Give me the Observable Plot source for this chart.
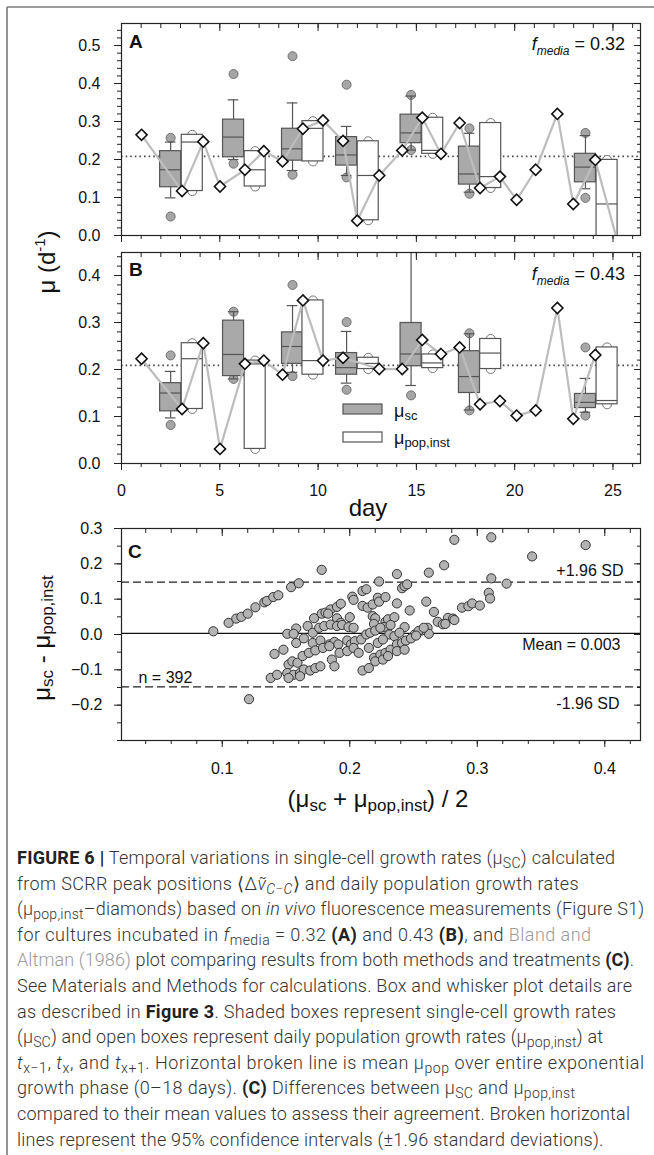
<!DOCTYPE html>
<html><head><meta charset="utf-8">
<script src="https://cdn.jsdelivr.net/npm/d3@7"></script>
<script src="https://cdn.jsdelivr.net/npm/@observablehq/plot@0.6"></script>
<style>
body{margin:0;background:#fff;}
#fig{position:relative;width:654px;height:1155px;overflow:hidden;background:#fff;font-family:"Liberation Sans",Arial,sans-serif;}
.panel{position:absolute;left:0;}
#overlay{position:absolute;left:0;top:0;pointer-events:none;}
#caption{position:absolute;left:17px;top:845px;font-family:Roboto,"Liberation Sans",sans-serif;font-size:18px;line-height:25.6px;color:#333;font-weight:300;}
#caption .ln{white-space:nowrap;display:block;}
#caption .ln span.w{display:inline;}
#caption b{font-weight:700;color:#222;}
#caption sub{font-size:0.78em;line-height:0;vertical-align:-0.3em;}
#caption .ref{color:#9a9a9a;}
</style></head>
<body><div id="fig"></div>
<script>
// ---------------- DATA ----------------
// population growth-rate diamonds (mu_pop,inst)
const popDaysA = [1.02, 3.08, 4.16, 5.01, 6.28, 7.24, 8.19, 9.23, 10.25, 11.27, 11.99, 13.11, 14.28, 15.3, 16.25, 17.2, 18.24, 19.25, 20.1, 21.07, 22.17, 22.98, 24.1, 25.25];
const popValsA = [0.265, 0.117, 0.247, 0.129, 0.173, 0.222, 0.195, 0.281, 0.303, 0.249, 0.039, 0.158, 0.224, 0.31, 0.215, 0.296, 0.125, 0.155, 0.094, 0.173, 0.32, 0.083, 0.199, -0.02];
const popDaysB = [1.02, 3.08, 4.16, 5.01, 6.28, 7.24, 8.19, 9.23, 10.25, 11.27, 13.11, 14.28, 15.3, 16.25, 17.2, 18.24, 19.25, 20.1, 21.07, 22.17, 22.98, 24.1];
const popValsB = [0.223, 0.116, 0.256, 0.031, 0.212, 0.219, 0.189, 0.347, 0.219, 0.225, 0.201, 0.201, 0.263, 0.233, 0.247, 0.126, 0.133, 0.102, 0.113, 0.331, 0.095, 0.231];

// box positions (day)
const scBoxDays = [2.5, 5.7, 8.7, 11.45, 14.73, 17.7, 23.6];
const popBoxDays = [3.6, 6.8, 9.74, 12.55, 15.83, 18.78, 24.7];

// single-cell (shaded) boxes, panel A
const scLowA  = [0.099, 0.200, 0.171, 0.158, 0.225, 0.114, 0.123];
const scQ1A   = [0.127, 0.206, 0.197, 0.184, 0.243, 0.134, 0.140];
const scMedA  = [0.173, 0.259, 0.228, 0.212, 0.270, 0.162, 0.180];
const scQ3A   = [0.222, 0.305, 0.281, 0.259, 0.318, 0.234, 0.215];
const scHighA = [0.246, 0.357, 0.349, 0.287, 0.367, 0.269, 0.263];
const scOutA  = [[0.257, 0.050], [0.425, 0.189], [0.472, 0.160], [0.397, 0.153], [0.370, 0.225], [0.282, 0.110], [0.270, 0.099]];
// population (open) boxes, panel A
const popLowA  = [0.117, 0.129, 0.195, 0.040, 0.215, 0.125, -0.02];
const popMedA  = [0.246, 0.173, 0.282, 0.158, 0.224, 0.155, 0.083];
const popHighA = [0.265, 0.222, 0.301, 0.248, 0.310, 0.296, 0.199];

// single-cell boxes, panel B
const scLowB  = [0.097, 0.180, 0.194, 0.171, 0.166, 0.114, 0.109];
const scQ1B   = [0.111, 0.186, 0.212, 0.189, 0.207, 0.150, 0.118];
const scMedB  = [0.150, 0.232, 0.249, 0.204, 0.233, 0.185, 0.130];
const scQ3B   = [0.171, 0.304, 0.279, 0.235, 0.299, 0.239, 0.148];
const scHighB = [0.196, 0.323, 0.336, 0.281, 0.500, 0.276, 0.181];
const scOutB  = [[0.230, 0.082], [0.323, 0.180], [0.380, 0.186], [0.301, 0.157], [0.145], [0.277, 0.113], [0.247, 0.102]];
// population boxes, panel B
const popLowB  = [0.116, 0.031, 0.189, 0.201, 0.203, 0.201, 0.126];
const popMedB  = [0.223, 0.212, 0.219, 0.213, 0.214, 0.235, 0.134];
const popHighB = [0.256, 0.219, 0.347, 0.225, 0.232, 0.265, 0.247];

const meanPopA = 0.208, meanPopB = 0.209;
const fMediaA = "0.32", fMediaB = "0.43";

// Bland-Altman (panel C)
const blandMean = [0.093,0.105,0.111,0.115,0.120,0.126,0.133,0.135,0.140,0.144,0.154,0.160,0.178,0.121,
0.223,0.237,0.241,0.243,0.245,0.262,0.274,0.210,0.213,0.202,0.203,0.210,0.214,0.218,0.222,0.223,0.228,0.237,0.247,0.260,0.266,0.288,0.293,0.296,0.302,
0.172,0.178,0.181,0.185,0.190,0.193,0.183,0.190,0.193,0.200,0.218,0.220,0.219,0.228,0.230,0.235,0.243,0.227,0.232,
0.269,0.273,0.277,0.281,0.282,0.275,0.261,0.262,0.256,
0.151,0.158,0.156,0.167,0.171,0.176,0.180,0.185,0.190,0.194,0.199,0.203,
0.158,0.164,0.141,0.148,0.171,0.177,0.184,0.188,0.191,0.198,0.201,0.204,0.209,0.213,0.216,0.220,0.224,0.231,0.235,0.239,0.251,0.254,0.258,
0.152,0.155,0.159,0.163,0.168,0.173,0.179,0.184,0.192,0.198,0.203,0.207,0.215,0.222,0.226,
0.219,0.224,0.228,0.232,0.237,0.241,0.244,0.248,0.252,
0.151,0.156,0.161,0.164,0.169,0.173,0.177,0.186,0.188,0.210,0.215,0.220,0.226,0.230,0.237,0.243,
0.138,0.143,0.152,0.161,
0.282,0.311,0.343,0.385,0.311,0.323,0.309,0.310];
const blandDiff = [0.009,0.033,0.045,0.050,0.059,0.077,0.091,0.095,0.106,0.111,0.134,0.145,0.183,-0.183,
0.150,0.171,0.131,0.137,0.142,0.175,0.196,0.123,0.128,0.107,0.098,0.081,0.076,0.085,0.104,0.093,0.106,0.088,0.068,0.093,0.064,0.076,0.080,0.088,0.082,
0.046,0.059,0.062,0.071,0.078,0.087,0.059,0.046,0.033,0.049,0.052,0.046,0.030,0.036,0.043,0.049,0.021,0.021,0.027,
0.036,0.029,0.047,0.045,0.041,0.030,0.019,0.002,0.011,
0.002,0.017,0.002,0.024,0.005,0.019,0.024,0.028,0.024,0.027,0.021,0.019,
-0.024,-0.011,-0.055,-0.043,-0.024,-0.017,-0.028,-0.021,-0.028,-0.017,-0.028,-0.019,-0.014,0.000,0.005,0.011,0.019,0.000,-0.005,0.005,0.000,0.010,0.019,
-0.085,-0.076,-0.080,-0.061,-0.052,-0.045,-0.038,-0.033,-0.052,-0.047,-0.038,-0.052,-0.038,-0.024,-0.014,
-0.066,-0.057,-0.052,-0.043,-0.028,-0.024,-0.017,-0.011,-0.003,
-0.109,-0.114,-0.109,-0.099,-0.102,-0.095,-0.090,-0.071,-0.090,-0.102,-0.095,-0.076,-0.071,-0.061,-0.047,-0.043,
-0.123,-0.114,-0.123,-0.118,
0.268,0.275,0.221,0.253,0.159,0.144,0.118,0.102];
const meanDiff = 0.003, sdUpper = 0.148, sdLower = -0.148, nPairs = 392;

// tick values
const abXMajor = [0, 5, 10, 15, 20, 25];
const abXMinor = d3.range(0, 27, 1);
const aYMajor = [0, 0.1, 0.2, 0.3, 0.4, 0.5];
const bYMajor = [0, 0.1, 0.2, 0.3, 0.4];
const cXMajor = [0.1, 0.2, 0.3, 0.4];
const cYMajor = [-0.2, -0.1, 0, 0.1, 0.2, 0.3];

// ---------------- DRAWING ----------------
const fig = document.getElementById("fig");
const FONT = "Liberation Sans, Arial, sans-serif";
const BLANK = () => "";

function frameAxes(xMajor, xMinor, yMajor, yMinor, xFmt, yFmt, xPad, yPad) {
  return [
    Plot.axisY({anchor: "left", ticks: yMajor, tickSize: 7, tickPadding: yPad, tickFormat: yFmt, label: null, fontSize: 16, stroke: "#222"}),
    Plot.axisY({anchor: "left", ticks: yMinor, tickSize: 4, tickFormat: BLANK, label: null, stroke: "#222"}),
    Plot.axisY({anchor: "right", ticks: yMajor, tickSize: 7, dx: -7, tickFormat: BLANK, label: null, stroke: "#222"}),
    Plot.axisY({anchor: "right", ticks: yMinor, tickSize: 4, dx: -4, tickFormat: BLANK, label: null, stroke: "#222"}),
    Plot.axisX({anchor: "bottom", ticks: xMajor, tickSize: 7, tickPadding: xPad, tickFormat: xFmt, label: null, fontSize: 16, stroke: "#222"}),
    Plot.axisX({anchor: "bottom", ticks: xMinor, tickSize: 4, tickFormat: BLANK, label: null, stroke: "#222"}),
    Plot.axisX({anchor: "top", ticks: xMajor, tickSize: 7, dy: 7, tickFormat: BLANK, label: null, stroke: "#222"}),
    Plot.axisX({anchor: "top", ticks: xMinor, tickSize: 4, dy: 4, tickFormat: BLANK, label: null, stroke: "#222"}),
    Plot.frame({stroke: "#222", strokeWidth: 1.2})
  ];
}

function boxPanel(p) {
  const hw = 0.535, cap = 0.27;
  const sc = scBoxDays.map((d, i) => ({x: d, x1: d - hw, x2: d + hw, lo: p.scLow[i], q1: p.scQ1[i], med: p.scMed[i], q3: p.scQ3[i], hi: p.scHigh[i]}));
  const scOut = scBoxDays.flatMap((d, i) => p.scOut[i].map(v => ({x: d, y: v})));
  const pop = popBoxDays.map((d, i) => ({x: d, x1: d - hw, x2: d + hw, lo: p.popLow[i], med: p.popMed[i], hi: p.popHigh[i]}));
  const popEnds = pop.flatMap(r => [{x: r.x, y: r.lo}, {x: r.x, y: r.hi}]);
  const dia = p.days.map((d, i) => ({x: d, y: p.vals[i]}));
  const yMinor = d3.range(0, p.yMax, 0.02).map(v => +v.toFixed(2));
  return Plot.plot({
    width: 654, height: p.height, marginLeft: 121, marginRight: 14, marginTop: p.mt, marginBottom: p.mb,
    x: {domain: [0, 26.4]}, y: {domain: [0, p.yMax]},
    style: {fontFamily: FONT, fontSize: "16px", color: "#111", background: "transparent", overflow: "visible"},
    marks: [
      Plot.ruleY([p.meanPop], {stroke: "#4a4a4a", strokeDasharray: "1.6,3", strokeWidth: 1.8}),
      Plot.dot(popEnds, {x: "x", y: "y", r: 4.5, fill: "white", stroke: "#777", strokeWidth: 1, clip: true}),
      Plot.dot(scOut, {x: "x", y: "y", r: 4.5, fill: "#a6a6a6", stroke: "#707070", strokeWidth: 1, clip: true}),
      Plot.ruleX(sc, {x: "x", y1: "q3", y2: "hi", stroke: "#555", strokeWidth: 1.2, clip: true}),
      Plot.ruleX(sc, {x: "x", y1: "lo", y2: "q1", stroke: "#555", strokeWidth: 1.2, clip: true}),
      Plot.ruleY(sc, {y: "hi", x1: d => d.x - cap, x2: d => d.x + cap, stroke: "#555", strokeWidth: 1.2, clip: true}),
      Plot.ruleY(sc, {y: "lo", x1: d => d.x - cap, x2: d => d.x + cap, stroke: "#555", strokeWidth: 1.2, clip: true}),
      Plot.rect(sc, {x1: "x1", x2: "x2", y1: "q1", y2: "q3", fill: "#a9a9a9", stroke: "#555", strokeWidth: 1.2, clip: true}),
      Plot.ruleY(sc, {y: "med", x1: "x1", x2: "x2", stroke: "#555", strokeWidth: 1.2}),
      Plot.rect(pop, {x1: "x1", x2: "x2", y1: "lo", y2: "hi", fill: "white", stroke: "#555", strokeWidth: 1.2, clip: true}),
      Plot.ruleY(pop, {y: "med", x1: "x1", x2: "x2", stroke: "#555", strokeWidth: 1.2, clip: true}),
      Plot.line(dia, {x: "x", y: "y", stroke: "#bdbdbd", strokeWidth: 2.2, clip: true}),
      Plot.dot(dia, {x: "x", y: "y", symbol: "diamond2", r: 5, fill: "white", stroke: "#111", strokeWidth: 1.6, clip: true}),
      ...frameAxes(abXMajor, abXMinor, p.yMajor, yMinor, p.showX ? d3.format("d") : BLANK, d3.format(".1f"), 14, 14)
    ]
  });
}

function place(svg, top) {
  svg.classList.add("panel");
  svg.style.top = top + "px";
  fig.appendChild(svg);
}

place(boxPanel({days: popDaysA, vals: popValsA, scLow: scLowA, scQ1: scQ1A, scMed: scMedA, scQ3: scQ3A, scHigh: scHighA, scOut: scOutA,
  popLow: popLowA, popMed: popMedA, popHigh: popHighA, meanPop: meanPopA, yMax: 0.558, yMajor: aYMajor,
  height: 250, mt: 23, mb: 15, showX: false}), 0);

place(boxPanel({days: popDaysB, vals: popValsB, scLow: scLowB, scQ1: scQ1B, scMed: scMedB, scQ3: scQ3B, scHigh: scHighB, scOut: scOutB,
  popLow: popLowB, popMed: popMedB, popHigh: popHighB, meanPop: meanPopB, yMax: 0.449, yMajor: bYMajor,
  height: 290, mt: 12, mb: 67, showX: true}), 240);

// Panel C
const cPts = blandMean.map((m, i) => ({x: m, y: blandDiff[i]}));
const cPlot = Plot.plot({
  width: 654, height: 300, marginLeft: 121, marginRight: 14, marginTop: 13, marginBottom: 75,
  x: {domain: [0.021, 0.428]}, y: {domain: [-0.3, 0.3]},
  style: {fontFamily: FONT, fontSize: "16px", color: "#111", background: "transparent", overflow: "visible"},
  marks: [
    Plot.ruleY([sdUpper, sdLower], {stroke: "#222", strokeDasharray: "8,4", strokeWidth: 1.3}),
    Plot.ruleY([meanDiff], {stroke: "#111", strokeWidth: 1.3}),
    Plot.dot(cPts, {x: "x", y: "y", r: 4.6, fill: "#b3b3b3", stroke: "#333", strokeWidth: 1}),
    Plot.text([sdUpper], {y: d => d, frameAnchor: "right", dx: -17, dy: -11, textAnchor: "end", text: () => "+1.96 SD", fontSize: 16, fill: "#111"}),
    Plot.text([meanDiff], {y: d => d, frameAnchor: "right", dx: -20, dy: 11, textAnchor: "end", text: () => "Mean = " + meanDiff.toFixed(3), fontSize: 16, fill: "#111"}),
    Plot.text([sdLower], {y: d => d, frameAnchor: "right", dx: -21, dy: 17, textAnchor: "end", text: () => "-1.96 SD", fontSize: 16, fill: "#111"}),
    Plot.text([sdLower], {y: d => d, frameAnchor: "left", dx: 17, dy: -4, lineAnchor: "bottom", textAnchor: "start", text: () => "n = " + nPairs, fontSize: 16, fill: "#111"}),
    ...frameAxes(cXMajor, d3.range(0.04, 0.43, 0.02).map(v => +v.toFixed(2)), cYMajor, d3.range(-0.3, 0.31, 0.05).map(v => +v.toFixed(2)), d3.format(".1f"), d3.format(".1f"), 15, 12)
  ]
});
place(cPlot, 515);

// ---------------- OVERLAY TEXT ----------------
const NS = "http://www.w3.org/2000/svg";
const ov = document.createElementNS(NS, "svg");
ov.setAttribute("id", "overlay");
ov.setAttribute("width", 654);
ov.setAttribute("height", 1155);
ov.setAttribute("font-family", FONT);
ov.innerHTML = `
  <line x1="7" y1="7" x2="654" y2="7" stroke="#7a7a7a" stroke-width="1.6"/>
  <line x1="7" y1="7" x2="7" y2="1155" stroke="#7a7a7a" stroke-width="1.6"/>
  <text x="129" y="48" font-size="19" font-weight="bold" fill="#111">A</text>
  <text x="129" y="276" font-size="19" font-weight="bold" fill="#111">B</text>
  <text x="128" y="558" font-size="19" font-weight="bold" fill="#111">C</text>
  <text x="625" y="50" font-size="18" text-anchor="end" fill="#111"><tspan font-style="italic">f</tspan><tspan font-size="12" font-style="italic" dy="5">media</tspan><tspan dy="-5"> = ${fMediaA}</tspan></text>
  <text x="625" y="280" font-size="18" text-anchor="end" fill="#111"><tspan font-style="italic">f</tspan><tspan font-size="12" font-style="italic" dy="5">media</tspan><tspan dy="-5"> = ${fMediaB}</tspan></text>
  <text transform="translate(55,262) rotate(-90)" font-size="24" text-anchor="middle" fill="#111">μ  (d<tspan font-size="15" dy="-10">-1</tspan><tspan dy="10">)</tspan></text>
  <text x="368" y="516" font-size="24" text-anchor="middle" fill="#111">day</text>
  <text transform="translate(50,638) rotate(-90)" font-size="24" text-anchor="middle" fill="#111">μ<tspan font-size="17" dy="3">sc</tspan><tspan dy="-3"> - μ</tspan><tspan font-size="17" dy="3">pop,inst</tspan></text>
  <text x="378" y="807" font-size="24" text-anchor="middle" fill="#111">(μ<tspan font-size="17" dy="4">sc</tspan><tspan dy="-4"> + μ</tspan><tspan font-size="17" dy="4">pop,inst</tspan><tspan dy="-4">) / 2</tspan></text>
  <rect x="343" y="404" width="39" height="10" fill="#a9a9a9" stroke="#555" stroke-width="1.2"/>
  <rect x="343" y="432" width="39" height="10" fill="white" stroke="#555" stroke-width="1.2"/>
  <text x="394" y="417" font-size="18" fill="#111">μ<tspan font-size="13" dy="3">sc</tspan></text>
  <text x="394" y="444" font-size="18" fill="#111">μ<tspan font-size="13" dy="3">pop,inst</tspan></text>
`;
fig.appendChild(ov);

// ---------------- CAPTION ----------------
const captionLines = [
  `<b>FIGURE 6 |</b> Temporal variations in single-cell growth rates (μ<sub>SC</sub>) calculated`,
  `from SCRR peak positions ⟨Δ<i>ν̃</i><sub><i>C−C</i></sub>⟩ and daily population growth rates`,
  `(μ<sub>pop,inst</sub>–diamonds) based on <i>in vivo</i> fluorescence measurements (Figure S1)`,
  `for cultures incubated in <i>f</i><sub>media</sub> = 0.32 <b>(A)</b> and 0.43 <b>(B)</b>, and <span class="ref">Bland and</span>`,
  `<span class="ref">Altman (1986)</span> plot comparing results from both methods and treatments <b>(C)</b>.`,
  `See Materials and Methods for calculations. Box and whisker plot details are`,
  `as described in <b>Figure 3</b>. Shaded boxes represent single-cell growth rates`,
  `(μ<sub>SC</sub>) and open boxes represent daily population growth rates (μ<sub>pop,inst</sub>) at`,
  `<i>t</i><sub>x−1</sub>, <i>t</i><sub>x</sub>, and <i>t</i><sub>x+1</sub>. Horizontal broken line is mean μ<sub>pop</sub> over entire exponential`,
  `growth phase (0–18 days). <b>(C)</b> Differences between μ<sub>SC</sub> and μ<sub>pop,inst</sub>`,
  `compared to their mean values to assess their agreement. Broken horizontal`,
  `lines represent the 95% confidence intervals (±1.96 standard deviations).`
];
const captionRight = [615, 579, 644, 591, 634, 632, 616, 603, 644, 575, 630, 603];
const cap = document.createElement("div");
cap.id = "caption";
cap.innerHTML = captionLines.map(l => `<div class="ln"><span class="w">${l}</span></div>`).join("");
fig.appendChild(cap);

function fitCaption() {
  const lines = cap.querySelectorAll(".ln");
  lines.forEach((ln, i) => {
    ln.style.letterSpacing = "0px";
    const w = ln.querySelector(".w").getBoundingClientRect().width;
    const target = captionRight[i] - 17;
    const n = ln.textContent.length;
    let ls = (target - w) / Math.max(1, n - 1);
    ls = Math.max(-1.6, Math.min(1.6, ls));
    ln.style.letterSpacing = ls.toFixed(3) + "px";
  });
}
fitCaption();
if (document.fonts && document.fonts.ready) document.fonts.ready.then(fitCaption);
</script>
</body></html>
